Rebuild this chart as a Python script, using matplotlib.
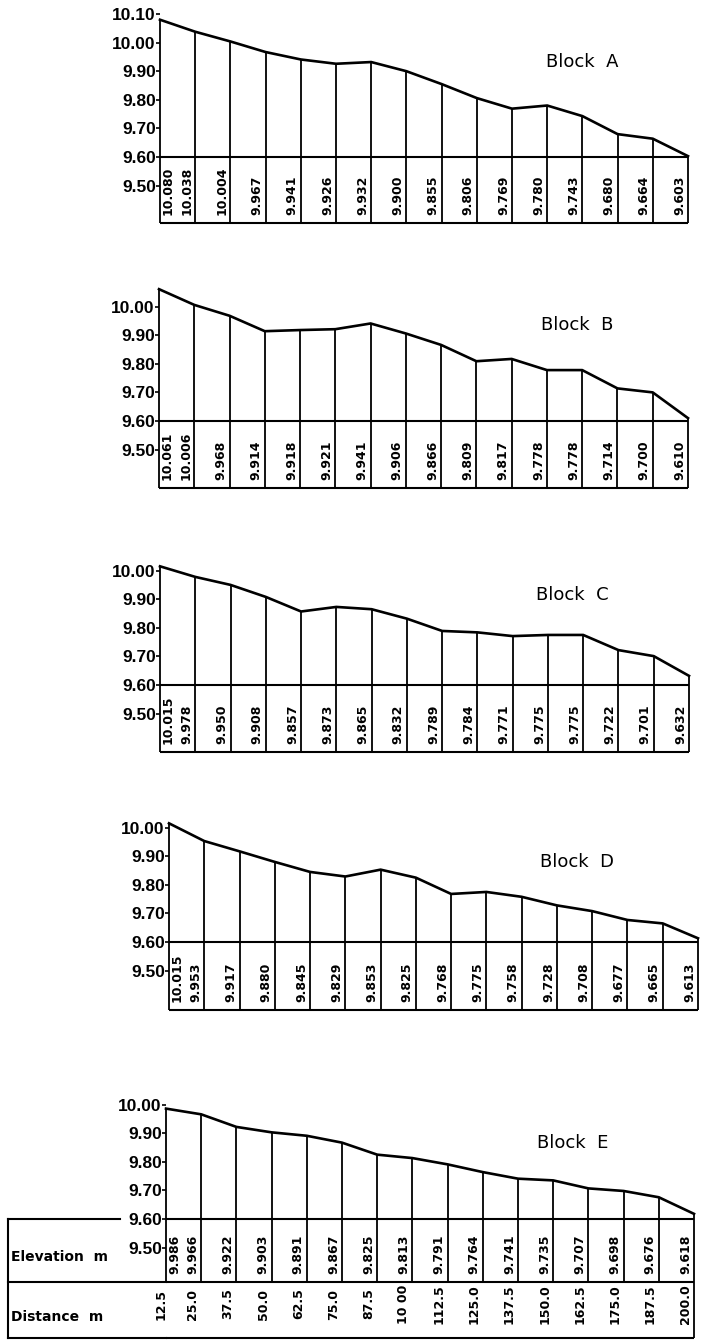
import matplotlib.pyplot as plt
import matplotlib.transforms as mtransforms

# distances along the profile (m)
dist = [12.5, 25.0, 37.5, 50.0, 62.5, 75.0, 87.5, 100.0,
        112.5, 125.0, 137.5, 150.0, 162.5, 175.0, 187.5, 200.0]
dist_labels = ["12.5", "25.0", "37.5", "50.0", "62.5", "75.0", "87.5", "10 00",
               "112.5", "125.0", "137.5", "150.0", "162.5", "175.0", "187.5", "200.0"]

# elevations (m) for each block
elev_a = [10.080, 10.038, 10.004, 9.967, 9.941, 9.926, 9.932, 9.900,
          9.855, 9.806, 9.769, 9.780, 9.743, 9.680, 9.664, 9.603]
elev_b = [10.061, 10.006, 9.968, 9.914, 9.918, 9.921, 9.941, 9.906,
          9.866, 9.809, 9.817, 9.778, 9.778, 9.714, 9.700, 9.610]
elev_c = [10.015, 9.978, 9.950, 9.908, 9.857, 9.873, 9.865, 9.832,
          9.789, 9.784, 9.771, 9.775, 9.775, 9.722, 9.701, 9.632]
elev_d = [10.015, 9.953, 9.917, 9.880, 9.845, 9.829, 9.853, 9.825,
          9.768, 9.775, 9.758, 9.728, 9.708, 9.677, 9.665, 9.613]
elev_e = [9.986, 9.966, 9.922, 9.903, 9.891, 9.867, 9.825, 9.813,
          9.791, 9.764, 9.741, 9.735, 9.707, 9.698, 9.676, 9.618]

names = ["A", "B", "C", "D", "E"]
elevs = [elev_a, elev_b, elev_c, elev_d, elev_e]
ticks_a = [9.5, 9.6, 9.7, 9.8, 9.9, 10.0, 10.1]
ticks = [9.5, 9.6, 9.7, 9.8, 9.9, 10.0]

W, H = 701, 1344
SCALE = 286.0  # px per metre of elevation
BASE = 9.60

# layout per block: left px, right px, 9.60 line px, bottom of elevation row px, title centre
layout = [
    (160, 688, 157, 223, (582, 62)),
    (159, 688, 421, 488, (577, 325)),
    (160, 689, 685, 752, (572, 595)),
    (169, 698, 942, 1010, (577, 862)),
    (166, 694, 1219, 1282, (573, 1143)),
]

fig = plt.figure(figsize=(W / 100, H / 100), dpi=100)
fig.patch.set_facecolor("white")

tick_font = ["Liberation Sans", "DejaVu Sans"]

for i, (name, elev) in enumerate(zip(names, elevs)):
    l, r, y60, yb, (tx, ty) = layout[i]
    last = (i == 4)
    bottom_px = 1338 if last else yb
    top_px = y60 - 0.58 * SCALE
    ylo = BASE - (bottom_px - y60) / SCALE
    yhi = BASE + (y60 - top_px) / SCALE
    ysep = BASE - (yb - y60) / SCALE
    ax = fig.add_axes([l / W, 1 - bottom_px / H, (r - l) / W, (bottom_px - top_px) / H])
    ax.set_xlim(dist[0], dist[-1])
    ax.set_ylim(ylo, yhi)
    for s in ax.spines.values():
        s.set_visible(False)
    ax.set_xticks([])
    tk = ticks_a if i == 0 else ticks
    ax.set_yticks(tk)
    ax.set_yticklabels(["%.2f" % t for t in tk], family=tick_font, fontsize=12.5,
                       fontweight="bold")
    ax.tick_params(axis="y", length=3, width=1.2, pad=0, direction="out")
    ax.patch.set_alpha(0)

    px = (dist[-1] - dist[0]) / (r - l)  # data units per pixel in x
    py = 1.0 / SCALE

    ax.plot(dist, elev, color="black", lw=1.9, solid_joinstyle="round", clip_on=False)
    ax.vlines(dist, ysep, elev, color="black", lw=1.3, clip_on=False)
    ax.hlines([BASE, ysep], dist[0], dist[-1], color="black", lw=1.5, clip_on=False)

    for j, (d, v) in enumerate(zip(dist, elev)):
        if j == 0:
            x = d + 2 * px
            ha = "left"
        else:
            x = d - 2 * px
            ha = "right"
        ax.text(x, ysep + 8 * py, "%.3f" % v, rotation=90, ha=ha, va="bottom",
                fontsize=9, family="DejaVu Sans", fontweight="bold", clip_on=False)

    fig.text(tx / W, 1 - ty / H, "Block  " + name, ha="center", va="center",
             fontsize=13, family="DejaVu Sans")

    if last:
        trans = mtransforms.blended_transform_factory(fig.transFigure, ax.transData)
        xl = 8 / W
        xa = l / W
        ax.plot([xl, (l - 46) / W], [BASE, BASE], color="black", lw=1.5,
                transform=trans, clip_on=False)
        ax.plot([xl, xa], [ysep, ysep], color="black", lw=1.5, transform=trans, clip_on=False)
        ax.plot([xl, xa], [ylo, ylo], color="black", lw=1.5, transform=trans, clip_on=False)
        ax.plot([xl, xl], [ylo, BASE], color="black", lw=1.5, transform=trans, clip_on=False)
        ax.hlines(ylo, dist[0], dist[-1], color="black", lw=1.5, clip_on=False)
        ax.vlines(dist[-1], ylo, ysep, color="black", lw=1.3, clip_on=False)
        ymid_e = BASE - (1257 - y60) / SCALE
        ymid_d = BASE - (1317 - y60) / SCALE
        ax.text(11 / W, ymid_e, "Elevation  m", transform=trans, ha="left", va="center",
                fontsize=10, family="DejaVu Sans", fontweight="bold")
        ax.text(11 / W, ymid_d, "Distance  m", transform=trans, ha="left", va="center",
                fontsize=10, family="DejaVu Sans", fontweight="bold")
        yd = ysep - 22 * py
        for j, (d, lab) in enumerate(zip(dist, dist_labels)):
            if j == 0:
                x = d + 2 * px
            else:
                x = d - 2 * px
            ax.text(x, yd, lab, rotation=90, ha="right", va="center",
                    fontsize=9, family="DejaVu Sans", fontweight="bold", clip_on=False)

fig.savefig("out.png", dpi=100, facecolor="white")
